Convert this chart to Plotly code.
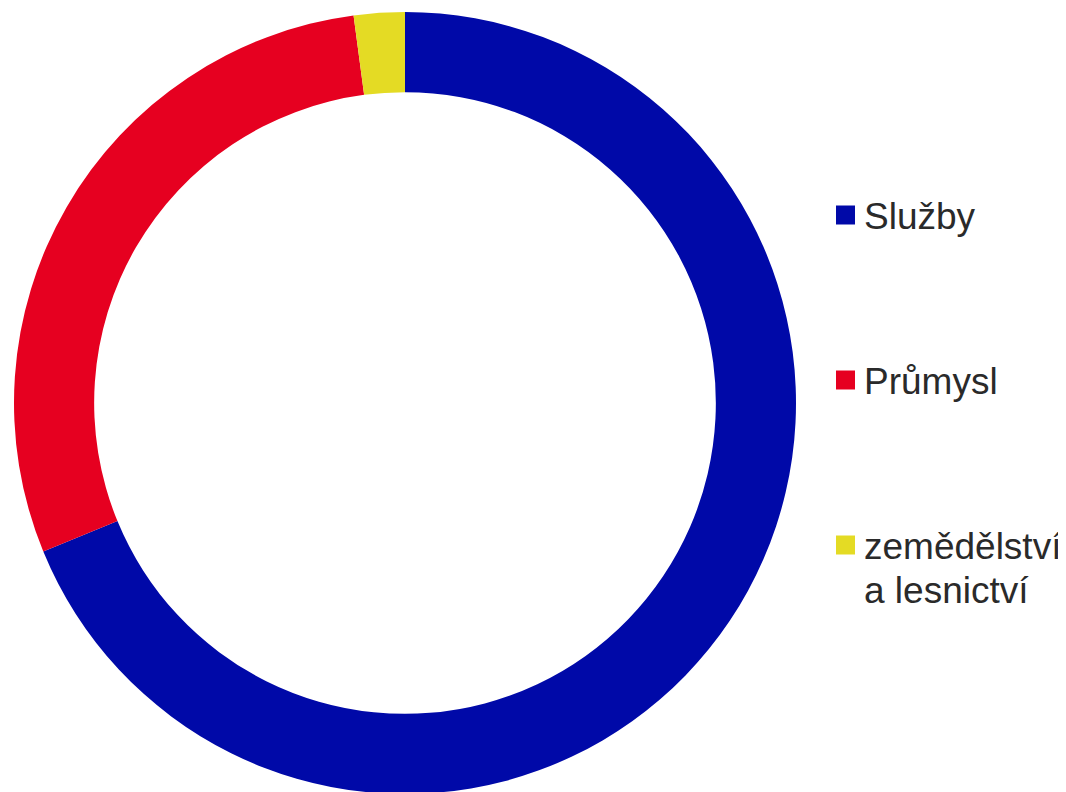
import plotly.graph_objects as go

categories = ["Služby", "Průmysl", "zemědělství a lesnictví"]
legend_lines = [["Služby"], ["Průmysl"], ["zemědělství", "a lesnictví"]]
values = [68.8, 29.1, 2.1]
colors = ["#0009A8", "#E60020", "#E4DB24"]

W, H = 1066, 792
T, B = 4, 6
PH = H - T - B


def py(p):
    """pixel (from top of figure) -> paper y"""
    return 1 - (p - T) / PH


fig = go.Figure(go.Pie(
    labels=categories,
    values=values,
    hole=0.795,
    sort=False,
    direction="clockwise",
    rotation=0,
    marker=dict(colors=colors, line=dict(width=0)),
    textinfo="none",
    showlegend=False,
    domain=dict(x=[6 / W, 788 / W], y=[0, 1]),
))

# manual legend
sq_x0, sq_x1 = 828, 847
text_x = 854
sq_centers = [207, 372, 537]
line_gap = 44
shapes = []
annotations = []
for lines, col, yc in zip(legend_lines, colors, sq_centers):
    shapes.append(dict(type="rect", xref="paper", yref="paper",
                       x0=sq_x0 / W, x1=sq_x1 / W,
                       y0=py(yc + 9.5), y1=py(yc - 9.5),
                       fillcolor=col, line=dict(width=0)))
    for i, ln in enumerate(lines):
        annotations.append(dict(text=ln, xref="paper", yref="paper",
                                x=text_x / W, y=py(yc + 1 + i * line_gap),
                                xanchor="left", yanchor="middle", align="left",
                                showarrow=False,
                                font=dict(family="Liberation Sans, Arial, sans-serif",
                                          size=37, color="#2a2a2a")))

fig.update_layout(
    width=W, height=H,
    margin=dict(l=0, r=0, t=T, b=B),
    paper_bgcolor="white", plot_bgcolor="white",
    shapes=shapes, annotations=annotations,
)

fig.write_html("out.html")
